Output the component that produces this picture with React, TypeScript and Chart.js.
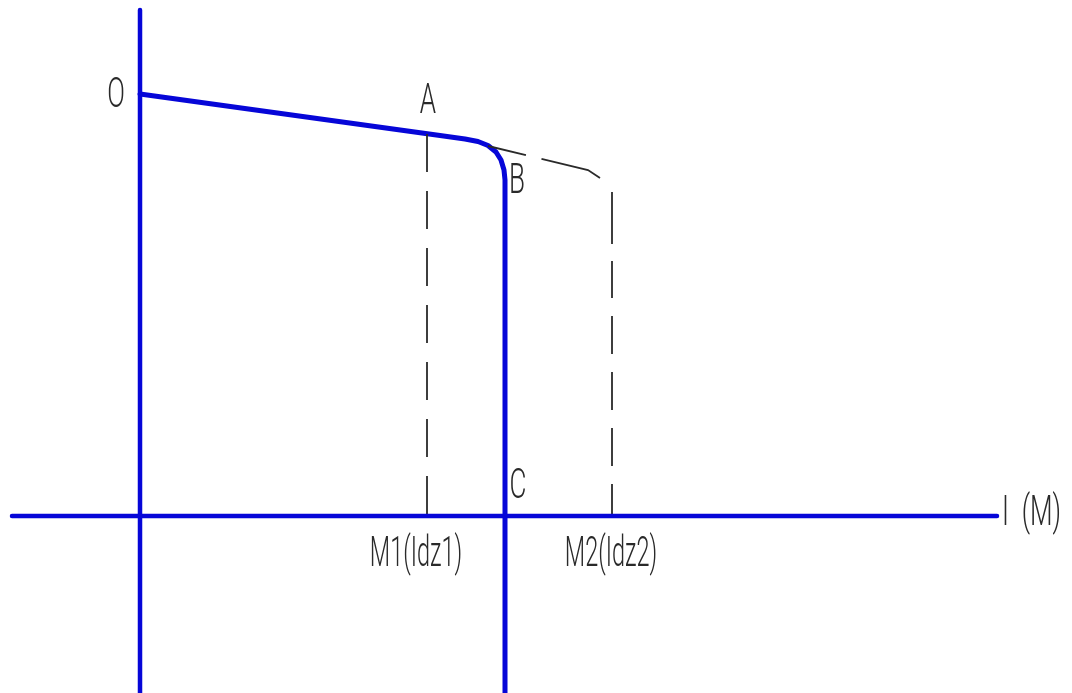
import React, { useEffect, useRef } from "react";
import { Chart, registerables } from "chart.js";

Chart.register(...registerables);

// Axis extents (data units: current I horizontally, value vertically)
const axisIRange = [-3.2, 21.425];
const axisURange = [-4.5, 12.65];

// Main characteristic O-A-B-C
const curveI = [0, 7.5, 8.125, 8.45, 8.7, 8.9, 9.025, 9.1, 9.125, 9.125];
const curveU = [10.55, 9.5125, 9.425, 9.3625, 9.2625, 9.1, 8.9, 8.65, 8.4, -4.5];

// Dashed continuation of the characteristic
const dashSlantI = [8.7, 11.2, 11.5];
const dashSlantU = [9.25, 8.65, 8.45];

// Dashed verticals at M1 and M2
const m1I = 7.175;
const m1Top = 9.55;
const m2I = 11.8;
const m2Top = 8.1;

// Text labels
const labelTexts = ["O", "A", "B", "C", "M1(Idz1)", "M2(Idz2)", "I  (M)"];
const labelAnchorI = [-0.6, 7.2, 9.425, 9.45, 6.9, 11.775, 21.55];
const labelAnchorU = [10.225, 10.075, 8.075, 0.45, -1.25, -1.25, -0.225];
const labelAlign: CanvasTextAlign[] = ["center", "center", "center", "center", "center", "center", "left"];
const labelSqueeze = [0.62, 0.62, 0.62, 0.62, 0.56, 0.56, 0.62];

const BLUE = "#0606d8";
const INK = "#2a2a2a";

const pts = (xs: number[], ys: number[]) => xs.map((x, i) => ({ x, y: ys[i] }));

const labelPlugin = {
  id: "labelPlugin",
  afterDraw(chart: any) {
    const { ctx, scales } = chart;
    const xs = scales.x;
    const ys = scales.y;
    ctx.save();
    ctx.fillStyle = INK;
    ctx.font = '300 42px "Roboto", "Liberation Sans", sans-serif';
    ctx.textBaseline = "alphabetic";
    labelTexts.forEach((t, i) => {
      const px = xs.getPixelForValue(labelAnchorI[i]);
      const py = ys.getPixelForValue(labelAnchorU[i]);
      ctx.save();
      ctx.translate(px, py);
      ctx.scale(labelSqueeze[i], 1);
      ctx.textAlign = labelAlign[i];
      ctx.fillText(t, 0, 0);
      ctx.restore();
    });
    ctx.restore();
  },
};

export default function App() {
  const ref = useRef<HTMLCanvasElement | null>(null);
  useEffect(() => {
    if (!ref.current) return;
    const base = { showLine: true, pointRadius: 0, pointHoverRadius: 0, fill: false, tension: 0 };
    const chart = new Chart(ref.current, {
      type: "scatter",
      data: {
        datasets: [
          {
            ...base,
            data: pts(axisIRange, [0, 0]),
            borderColor: BLUE,
            borderWidth: 4.5,
            borderCapStyle: "round",
          },
          {
            ...base,
            data: pts([0, 0], [axisURange[0], axisURange[1]]),
            borderColor: BLUE,
            borderWidth: 4.5,
            borderCapStyle: "round",
          },
          {
            ...base,
            data: pts([m1I, m1I], [m1Top, 0]),
            borderColor: INK,
            borderWidth: 1.8,
            borderDash: [38, 19],
          },
          {
            ...base,
            data: pts([m2I, m2I], [m2Top, 0]),
            borderColor: INK,
            borderWidth: 1.8,
            borderDash: [52, 17, 37, 18, 38, 18, 38, 18, 38, 18, 38, 17],
          },
          {
            ...base,
            data: pts(dashSlantI, dashSlantU),
            borderColor: INK,
            borderWidth: 1.8,
            borderDash: [39, 16, 70, 16],
          },
          {
            ...base,
            data: pts(curveI, curveU),
            borderColor: BLUE,
            borderWidth: 5,
            borderJoinStyle: "round",
            borderCapStyle: "round",
          },
        ],
      } as any,
      options: {
        animation: false,
        responsive: false,
        maintainAspectRatio: false,
        layout: { padding: 0 },
        plugins: { legend: { display: false }, tooltip: { enabled: false } },
        events: [],
        scales: {
          x: { type: "linear", min: -3.5, max: 23.3, display: false },
          y: { type: "linear", min: -4.425, max: 12.9, display: false },
        },
      } as any,
      plugins: [labelPlugin],
    });
    return () => chart.destroy();
  }, []);
  return (
    <div style={{ position: "fixed", left: 0, top: 0, width: 1072, height: 693, background: "#fff" }}>
      <canvas ref={ref} width={1072} height={693} style={{ display: "block" }} />
    </div>
  );
}
